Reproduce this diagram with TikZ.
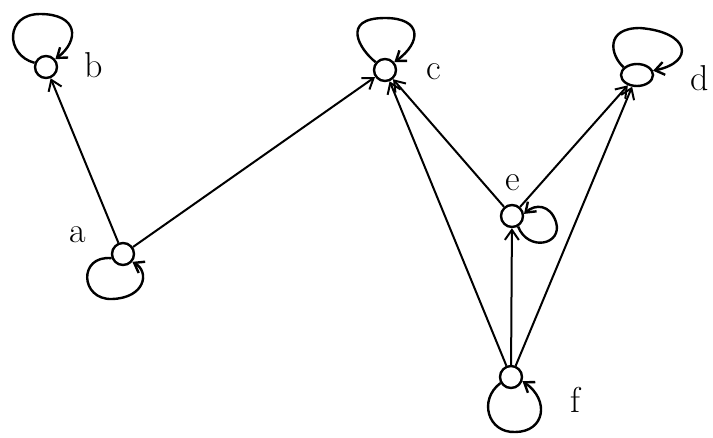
\documentclass[tikz,border=0pt]{standalone}
\usetikzlibrary{arrows.meta,shapes.geometric}
\begin{document}
\begin{tikzpicture}[x=1pt,y=-1pt,
  vert/.style={circle,draw,line width=2.4pt,minimum size=22pt,inner sep=0pt},
  edge/.style={line width=2pt,-{Straight Barb[length=10pt,width=14pt,line width=2pt]}},
  selfloop/.style={line width=2.4pt,-{Straight Barb[length=9pt,width=13pt,line width=2.4pt]}},
  lab/.style={font=\fontsize{36}{40}\selectfont}]
\useasboundingbox (0,0) rectangle (713,437);
\node[vert] (b) at (46,67) {};
\node[vert] (c) at (385,70) {};
\node[vert,ellipse,minimum width=32pt,minimum height=22pt] (d) at (637,75) {};
\node[vert] (a) at (123,254) {};
\node[vert] (e) at (512,216) {};
\node[vert] (f) at (511,377) {};
\node[lab] at (94,65) {b};
\node[lab] at (434,72) {c};
\node[lab] at (700,78) {d};
\node[lab] at (78,235) {a};
\node[lab] at (513,183) {e};
\node[lab] at (575,400) {f};
\draw[edge] (a) -- (b);
\draw[edge] (a) -- (c);
\draw[edge] (e) -- (c);
\draw[edge] (f) -- (c);
\draw[edge] (f) -- (e);
\draw[edge] (f) -- (d);
\draw[edge] (e) -- (d);
\draw[selfloop] (b.160) .. controls (5,55) and (5,14) .. (40,14) .. controls (78,14) and (80,40) .. (b.40);
\draw[selfloop] (c.140) .. controls (360,50) and (340,18) .. (385,18) .. controls (422,18) and (422,42) .. (c.40);
\draw[selfloop] (d.150) .. controls (610,55) and (605,28) .. (640,28) .. controls (690,32) and (695,62) .. (d.15);
\draw[selfloop] (a.200) .. controls (78,255) and (80,300) .. (112,299) .. controls (145,298) and (150,272) .. (a.-40);
\draw[selfloop] (e.-60) .. controls (528,252) and (563,245) .. (556,222) .. controls (550,204) and (535,204) .. (e.10);
\draw[selfloop] (f.210) .. controls (478,400) and (488,433) .. (515,432) .. controls (545,432) and (550,400) .. (f.-20);
\end{tikzpicture}
\end{document}
